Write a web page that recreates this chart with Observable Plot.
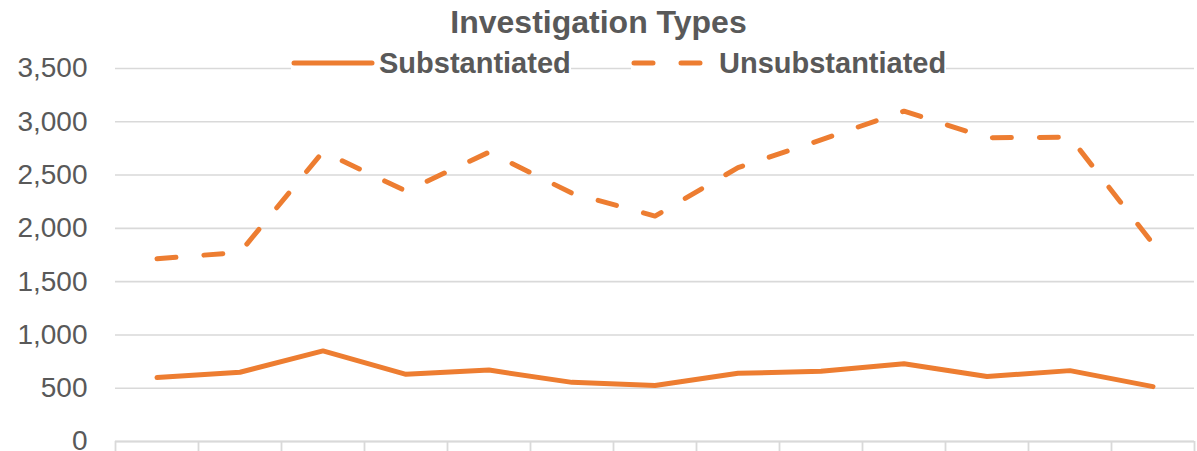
<!DOCTYPE html>
<html>
<head>
<meta charset="utf-8">
<script src="https://cdn.jsdelivr.net/npm/d3@7"></script>
<script src="https://cdn.jsdelivr.net/npm/@observablehq/plot@0.6"></script>
<style>
  body { margin: 0; background: #fff; }
  #wrap { position: relative; width: 1197px; height: 451px; overflow: hidden;
          font-family: "Liberation Sans", Arial, sans-serif; color: #595959; background: #fff; }
  #chart { position: absolute; left: 0; top: 0; }
  #title { position: absolute; left: 0; top: 6px; width: 1197px; text-align: center;
           font-weight: bold; font-size: 32px; line-height: 1; }
  .leg { position: absolute; top: 46px; height: 34px; background: #fff; display: flex; align-items: center;
         font-weight: bold; font-size: 29px; line-height: 1; white-space: nowrap; }
  .leg svg { display: block; }
</style>
</head>
<body>
<div id="wrap">
  <div id="chart"></div>
  <div id="title">Investigation Types</div>
  <div class="leg" id="leg1"></div>
  <div class="leg" id="leg2"></div>
</div>
<script>
// ---- data ----
const periods = [1, 2, 3, 4, 5, 6, 7, 8, 9, 10, 11, 12, 13];
const substantiated = [600, 650, 850, 630, 670, 555, 525, 640, 660, 730, 610, 665, 515];
const unsubstantiated = [1715, 1775, 2720, 2350, 2715, 2330, 2115, 2570, 2830, 3100, 2850, 2855, 1855];
const yTicks = [0, 500, 1000, 1500, 2000, 2500, 3000, 3500];
const seriesNames = ["Substantiated", "Unsubstantiated"];

const orange = "#ED7D31";
const grid = "#D9D9D9";
const dash = "19,28";

const subData = periods.map((p, i) => ({period: p, value: substantiated[i]}));
const unsubData = periods.map((p, i) => ({period: p, value: unsubstantiated[i]}));
const boundaries = [periods[0] - 0.5, ...periods.map(p => p + 0.5)];

const chart = Plot.plot({
  width: 1197,
  height: 451,
  marginTop: 68,
  marginBottom: 10,
  marginLeft: 115,
  marginRight: 3,
  style: {fontFamily: "Liberation Sans, Arial, sans-serif", color: "#595959", background: "transparent", overflow: "visible"},
  x: {type: "linear", domain: [boundaries[0], boundaries[boundaries.length - 1]]},
  y: {domain: [0, 3500]},
  marks: [
    Plot.gridY(yTicks, {stroke: grid, strokeOpacity: 1, strokeWidth: 1.6}),
    Plot.axisY(yTicks, {tickSize: 0, tickPadding: 28, fontSize: 28, fill: "#595959",
                        tickFormat: d3.format(","), label: null}),
    Plot.axisX(boundaries, {tickSize: 10, tickFormat: () => "", stroke: grid, strokeWidth: 1.8, label: null}),
    Plot.ruleY([0], {stroke: grid, strokeWidth: 2}),
    Plot.line(subData, {x: "period", y: "value", stroke: orange, strokeWidth: 5,
                        strokeLinecap: "round", strokeLinejoin: "round"}),
    Plot.line(unsubData, {x: "period", y: "value", stroke: orange, strokeWidth: 5,
                          strokeLinecap: "round", strokeLinejoin: "round", strokeDasharray: dash})
  ]
});
document.getElementById("chart").appendChild(chart);

// legend
function sample(dashed, w, gap) {
  const ns = "http://www.w3.org/2000/svg";
  const s = document.createElementNS(ns, "svg");
  s.setAttribute("width", w); s.setAttribute("height", 10);
  s.style.marginRight = gap + "px";
  const l = document.createElementNS(ns, "line");
  l.setAttribute("x1", 3); l.setAttribute("x2", w - 3);
  l.setAttribute("y1", 5); l.setAttribute("y2", 5);
  l.setAttribute("stroke", orange); l.setAttribute("stroke-width", 5);
  l.setAttribute("stroke-linecap", "round");
  if (dashed) l.setAttribute("stroke-dasharray", dash);
  s.appendChild(l);
  return s;
}
const leg1 = document.getElementById("leg1");
leg1.style.left = "291px";
leg1.appendChild(sample(false, 84, 4));
leg1.appendChild(document.createTextNode(seriesNames[0]));
const leg2 = document.getElementById("leg2");
leg2.style.left = "631px";
leg2.appendChild(sample(true, 76, 12));
leg2.appendChild(document.createTextNode(seriesNames[1]));
</script>
</body>
</html>
